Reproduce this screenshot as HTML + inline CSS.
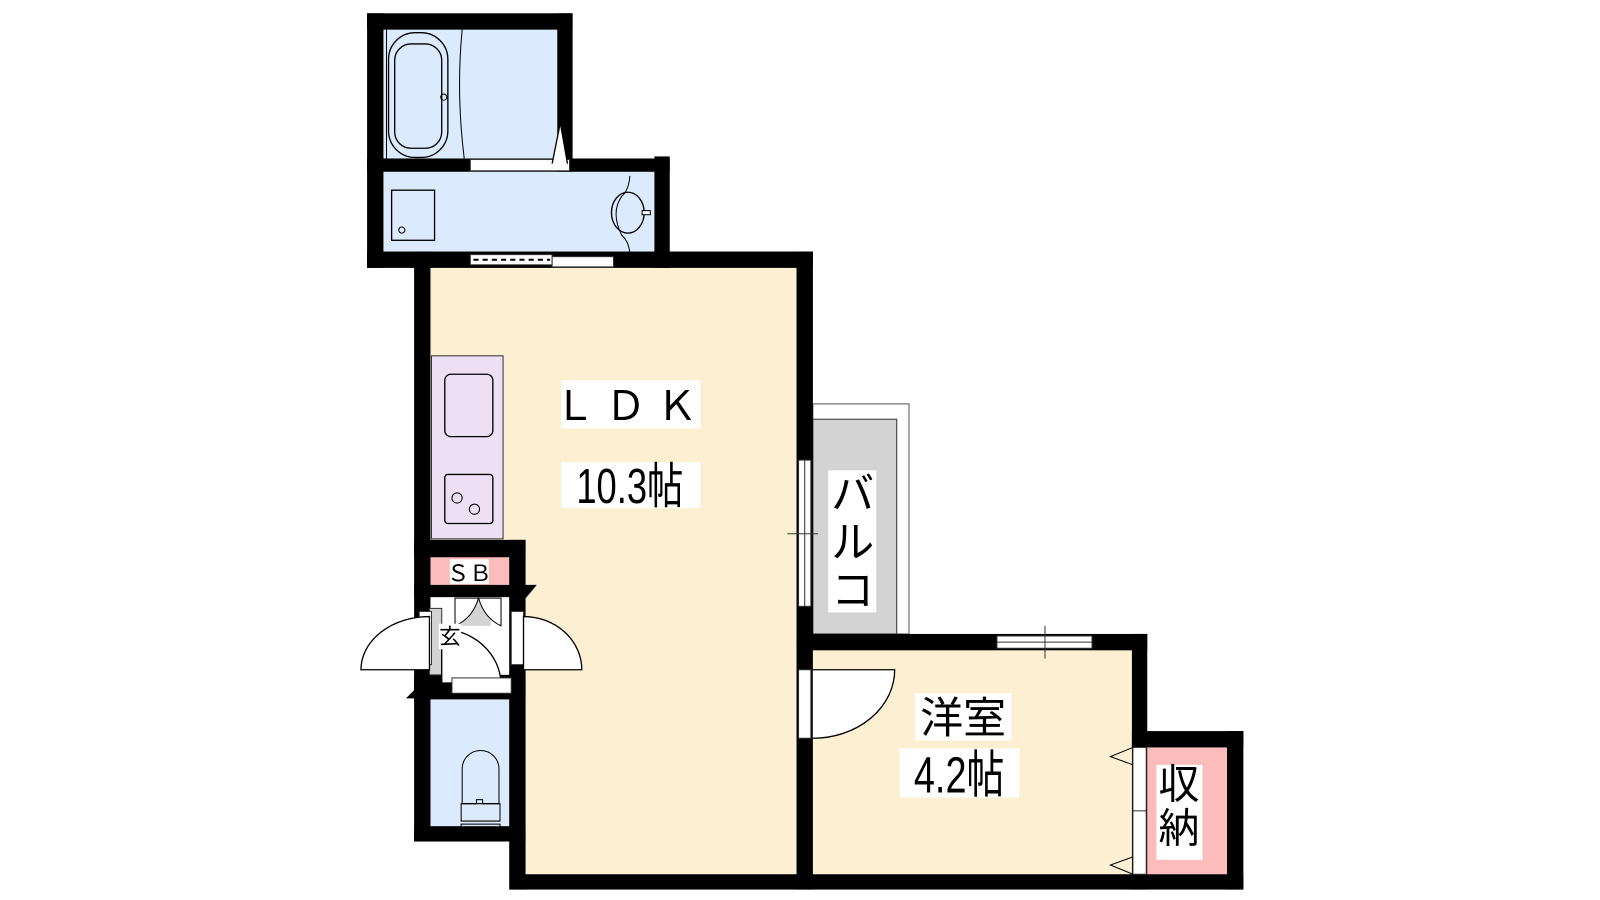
<!DOCTYPE html>
<html><head><meta charset="utf-8"><style>
html,body{margin:0;padding:0;background:#fff;width:1600px;height:900px;overflow:hidden}
svg{display:block}
text{font-family:"Liberation Sans","Noto Sans CJK JP",sans-serif;fill:#000}
</style></head><body>
<svg width="1600" height="900" viewBox="0 0 1600 900" xmlns="http://www.w3.org/2000/svg">
<g transform="scale(1.0225)">
<rect x="375" y="29" width="170" height="127" fill="#dbeafd"/>
<rect x="375" y="168" width="265" height="78" fill="#dbeafd"/>
<rect x="421" y="262" width="358" height="593" fill="#fdf0d2"/>
<rect x="405" y="823" width="93" height="50" fill="#fff"/>
<rect x="795" y="636" width="312" height="219" fill="#fdf0d2"/>
<rect x="421" y="684" width="77" height="124" fill="#dbeafd"/>
<rect x="1122" y="731" width="78" height="124" fill="#fdbcbc"/>
<rect x="421" y="545" width="77" height="27" fill="#fdbcbc"/>
<rect x="421" y="572" width="77" height="108" fill="#fff"/>
<rect x="795" y="395" width="94" height="225" fill="#fff" stroke="#555" stroke-width="1"/>
<rect x="795" y="410" width="82" height="210" fill="#d3d3d3" stroke="#333" stroke-width="1"/>
<g fill="#000">
<rect x="359" y="13" width="201" height="16"/>
<rect x="359" y="13" width="16" height="249"/>
<rect x="545" y="13" width="15" height="155"/>
<rect x="359" y="155" width="296" height="13"/>
<rect x="640" y="153" width="15" height="109"/>
<rect x="359" y="246" width="436" height="16"/>
<rect x="405" y="246" width="16" height="577"/>
<rect x="779" y="246" width="16" height="624"/>
<rect x="405" y="528" width="109" height="17"/>
<rect x="498" y="528" width="16" height="342"/>
<rect x="405" y="572" width="109" height="12"/>
<rect x="405" y="808" width="109" height="15"/>
<rect x="499" y="855" width="717" height="15"/>
<rect x="779" y="620" width="343" height="16"/>
<rect x="1107" y="620" width="15" height="250"/>
<rect x="1107" y="715" width="109" height="16"/>
<rect x="1200" y="715" width="16" height="155"/>
<rect x="405" y="660" width="109" height="24"/>
</g>
<rect x="460" y="156" width="97" height="11" fill="#fff" stroke="#333" stroke-width="1"/>
<polyline points="540,160 548,120 555,160" fill="#fff" stroke="#000" stroke-width="1.3"/>
<rect x="460" y="249" width="80" height="10" fill="#fff" stroke="#333"/>
<line x1="463" y1="254" x2="538" y2="254" stroke="#000" stroke-width="2" stroke-dasharray="5,4"/>
<rect x="540" y="251" width="60" height="10" fill="#fff" stroke="#333"/>
<rect x="781" y="450" width="12" height="143" fill="#fff" stroke="#333"/>
<line x1="787" y1="450" x2="787" y2="593" stroke="#333"/>
<line x1="770" y1="522" x2="800" y2="522" stroke="#333"/>
<rect x="975" y="622" width="93" height="12" fill="#fff" stroke="#333"/>
<line x1="975" y1="628" x2="1068" y2="628" stroke="#333"/>
<line x1="1022" y1="612" x2="1022" y2="644" stroke="#333"/>
<rect x="781" y="655" width="12" height="67" fill="#fff" stroke="#333"/>
<path d="M795 655 L875 655 A80 67 0 0 1 795 722" fill="#fff" stroke="#000" stroke-width="1.3"/>
<rect x="1108" y="731" width="13" height="124" fill="#fff" stroke="#333"/>
<line x1="1108" y1="793" x2="1121" y2="793" stroke="#333"/>
<polyline points="1108,731 1086,740 1108,748" fill="none" stroke="#000"/>
<polyline points="1108,838 1086,846 1108,855" fill="none" stroke="#000"/>
<rect x="420" y="595" width="12" height="65" fill="#d3d3d3" stroke="#333"/>
<rect x="410" y="598" width="12" height="52" fill="#fff" stroke="#333"/>
<path d="M420 603 A67 52 0 0 0 353 655 L420 655 Z" fill="#fff" stroke="#000" stroke-width="1.3"/>
<rect x="500" y="598" width="12" height="52" fill="#fff" stroke="#333"/>
<path d="M512 603 A57 52 0 0 1 569 655 L512 655 Z" fill="#fff" stroke="#000" stroke-width="1.3"/>
<rect x="445" y="587" width="35" height="25" fill="#d3d3d3"/>
<path d="M445 585 L445 612 Q462 605 468 585 Q474 605 490 612 L490 585 Z" fill="#fff" stroke="#000"/>
<path d="M432 615 A60 55 0 0 1 490 668 L432 668 Z" fill="#fff" stroke="#000" stroke-width="1.3"/>
<rect x="442" y="663" width="58" height="15" fill="#fff" stroke="#333"/>
<polygon points="505,572 525,572 510,590" fill="#000"/>
<polygon points="415,665 397,683 420,683" fill="#000"/>
<rect x="422" y="348" width="70" height="179" fill="#ede0f5" stroke="#333"/>
<rect x="435" y="366" width="47" height="61" rx="6" fill="none" stroke="#000" stroke-width="1.3"/>
<rect x="435" y="464" width="47" height="48" rx="3" fill="none" stroke="#000" stroke-width="1.3"/>
<circle cx="447" cy="487" r="5" fill="none" stroke="#000"/>
<circle cx="464" cy="498" r="5" fill="none" stroke="#000"/>
<rect x="380" y="32" width="58" height="122" rx="26" fill="none" stroke="#000" stroke-width="1.3"/>
<rect x="386" y="43" width="46" height="102" rx="16" fill="none" stroke="#000" stroke-width="1.3"/>
<circle cx="434" cy="95" r="3" fill="none" stroke="#000"/>
<line x1="378" y1="29" x2="378" y2="155" stroke="#000"/>
<path d="M452 29 Q446 90 454 155" fill="none" stroke="#000"/>
<rect x="383" y="186" width="42" height="49" fill="none" stroke="#000" stroke-width="1.3"/>
<circle cx="393" cy="225" r="3" fill="none" stroke="#000"/>
<path d="M616 172 Q615 186 608 192 Q597 208 608 230 Q615 236 616 248" fill="none" stroke="#000"/>
<ellipse cx="614" cy="208" rx="16" ry="20" fill="none" stroke="#000" stroke-width="1.3"/>
<rect x="628" y="206" width="8" height="4" fill="#fff" stroke="#000"/>
<path d="M452 786 L452 752 A18 18 0 0 1 488 752 L488 786 Z" fill="none" stroke="#000"/>
<path d="M451 786 L451 803 L489 803 L489 786 L472 786 L472 782 L466 782 L466 786 Z" fill="none" stroke="#000"/>
<rect x="451" y="806" width="38" height="4" fill="none" stroke="#000"/>
<!-- labels -->
<rect x="549" y="372" width="136" height="47" fill="#fff"/>
<text x="617" y="411" font-size="40" text-anchor="middle" letter-spacing="10">ＬＤＫ</text>
<rect x="549" y="452" width="136" height="45" fill="#fff"/>
<text x="616" y="492" font-size="48" text-anchor="middle" transform="translate(616,0) scale(0.74,1) translate(-616,0)">10.3帖</text>
<rect x="810" y="460" width="47" height="139" fill="#fff"/>
<text x="834" y="498" font-size="42" text-anchor="middle">バ</text>
<text x="834" y="545" font-size="42" text-anchor="middle">ル</text>
<text x="834" y="592" font-size="42" text-anchor="middle">コ</text>
<rect x="895" y="678" width="94" height="46" fill="#fff"/>
<text x="942" y="717" font-size="42" text-anchor="middle">洋室</text>
<rect x="880" y="732" width="117" height="48" fill="#fff"/>
<text x="938" y="775" font-size="50" text-anchor="middle" transform="translate(938,0) scale(0.74,1) translate(-938,0)">4.2帖</text>
<rect x="1131" y="748" width="45" height="93" fill="#fff"/>
<text x="1153" y="781" font-size="40" text-anchor="middle">収</text>
<text x="1153" y="824" font-size="40" text-anchor="middle">納</text>
<rect x="440" y="547" width="38" height="24" fill="#fff"/>
<text x="459" y="568" font-size="22" text-anchor="middle">ＳＢ</text>
<rect x="429" y="610" width="22" height="25" fill="#fff"/>
<text x="440" y="630" font-size="21" text-anchor="middle">玄</text>
</g>
</svg>
</body></html>
